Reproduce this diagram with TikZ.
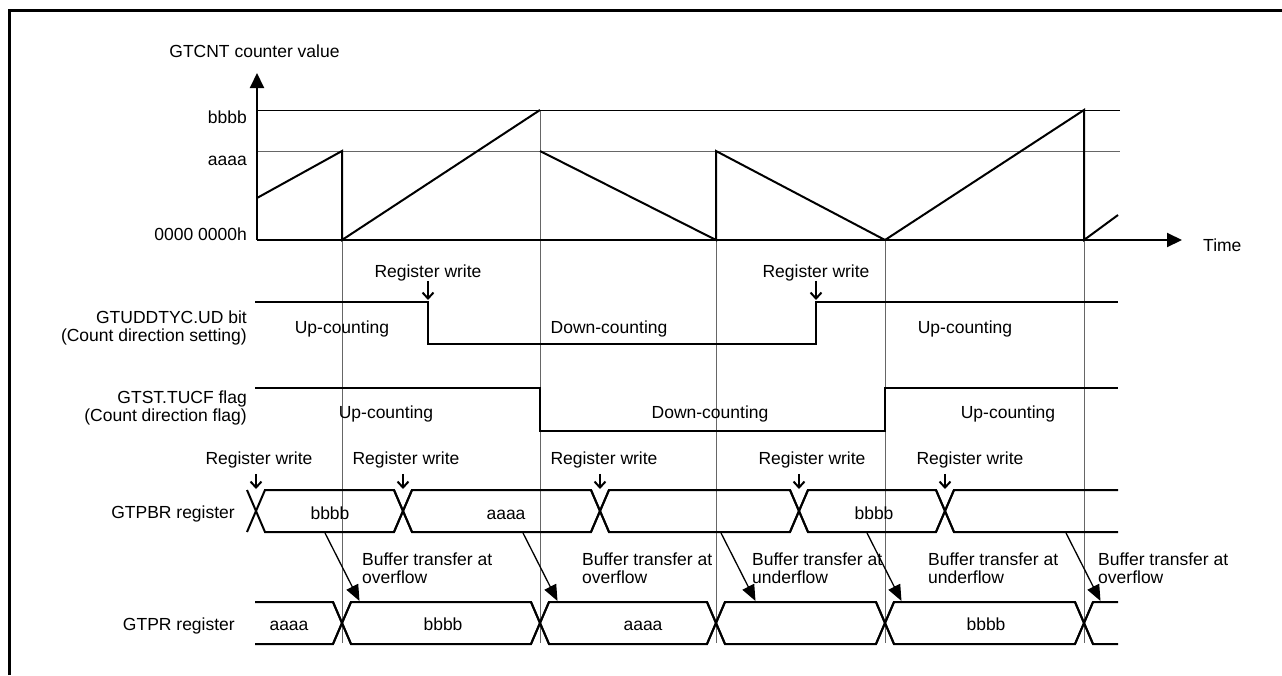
\documentclass[tikz,border=0pt]{standalone}
\usepackage{fontspec}
\setmainfont{Liberation Sans}
\usetikzlibrary{arrows.meta}

\tikzset{
  sig/.style={line width=2pt},
  guide/.style={line width=1pt, black!60},
  axisarrow/.style={line width=2pt, -{Triangle[length=15pt,width=14pt]}},
  wrarrow/.style={line width=2pt, -{Straight Barb[length=6pt,width=11pt]}},
  xferarrow/.style={line width=1.3pt, -{Triangle[length=16pt,width=13pt]}},
  lbl/.style={inner sep=0pt, font=\fontsize{17.5}{18}\selectfont},
}

\begin{document}
\begin{tikzpicture}[x=1pt,y=-1pt]
\useasboundingbox (0,0) rectangle (1282,675);
% frame
\draw[line width=3pt] (9,675) -- (9,10) -- (1282,10);

% timing guides
\draw[guide] (540,110) -- (540,643);
\foreach \x in {342,716,885,1084}
  \draw[guide] (\x,240) -- (\x,643);

% counter
\draw[line width=1pt] (257,110) -- (1120,110);
\draw[line width=1pt, black!60] (257,151) -- (1120,151);
\draw[axisarrow] (257,240) -- (257,73);
\draw[axisarrow] (257,240) -- (1182,240);
\draw[sig] (257,198) -- (342,151) -- (342,240) -- (540,110);
\draw[sig] (540,151) -- (716,240) -- (716,151) -- (885,240) -- (1084,110) -- (1084,240) -- (1118,215);

\node[lbl, anchor=base] (ylab) at (254.5,57) {GTCNT counter value};
\node[lbl, anchor=base east] (vb) at (247,123) {bbbb};
\node[lbl, anchor=base east] (va) at (247,165) {aaaa};
\node[lbl, anchor=base east] (v0) at (247,240) {0000 0000h};
\node[lbl, anchor=base west] (tlab) at (1203,251) {Time};

% GTUDDTYC.UD
\draw[sig] (255,302) -- (428,302) -- (428,344) -- (816,344) -- (816,302) -- (1118,302);
\node[lbl, anchor=base east, align=right] (udname) at (247,341) {GTUDDTYC.UD bit\\(Count direction setting)};
\foreach \x/\t [count=\i] in {342/Up-counting, 609/Down-counting, 965/Up-counting}
  \node[lbl, anchor=base] (ud\i) at (\x,333) {\t};
\foreach \x [count=\i] in {428,816} {
  \node[lbl, anchor=base] (udw\i) at (\x,277) {Register write};
  \coordinate (udt\i) at (\x,300);
  \draw[wrarrow] (udw\i.south -| udt\i) -- (udt\i);
}

% GTST.TUCF
\draw[sig] (255,388) -- (540,388) -- (540,431) -- (885,431) -- (885,388) -- (1118,388);
\node[lbl, anchor=base east, align=right] (ucname) at (247,421) {GTST.TUCF flag\\(Count direction flag)};
\foreach \x/\t [count=\i] in {386/Up-counting, 710/Down-counting, 1008/Up-counting}
  \node[lbl, anchor=base] (uc\i) at (\x,418) {\t};

% GTPBR
\node[lbl, anchor=base east] (pbname) at (235,518) {GTPBR register};
\foreach \a/\b in {256/403, 403/600, 600/799, 799/945}
  \draw[sig] (\a-9,532) -- (\a+9,490) -- (\b-9,490) -- (\b+9,532)
             (\a-9,490) -- (\a+9,532) -- (\b-9,532) -- (\b+9,490);
\draw[sig] (936,532) -- (954,490) -- (1118,490) (936,490) -- (954,532) -- (1118,532);
\foreach \x/\t [count=\i] in {330/bbbb, 506/aaaa, 874/bbbb}
  \node[lbl, anchor=base] (pb\i) at (\x,519) {\t};
\foreach \x/\c [count=\i] in {259/256, 406/403, 604/600, 812/799, 970/945} {
  \node[lbl, anchor=base] (pbw\i) at (\x,464) {Register write};
  \coordinate (pbt\i) at (\c,489);
  \draw[wrarrow, shorten <=6pt] (pbw\i.south -| pbt\i) -- (pbt\i);
}

% GTPR
\node[lbl, anchor=base east] (prname) at (235,630) {GTPR register};
\draw[sig] (255,602) -- (333,602) -- (351,644) (255,644) -- (333,644) -- (351,602);
\foreach \a/\b in {342/540, 540/716, 716/885, 885/1084}
  \draw[sig] (\a-9,644) -- (\a+9,602) -- (\b-9,602) -- (\b+9,644)
             (\a-9,602) -- (\a+9,644) -- (\b-9,644) -- (\b+9,602);
\draw[sig] (1075,644) -- (1093,602) -- (1118,602) (1075,602) -- (1093,644) -- (1118,644);
\foreach \x/\t [count=\i] in {289/aaaa, 443/bbbb, 643/aaaa, 986/bbbb}
  \node[lbl, anchor=base] (pr\i) at (\x,630) {\t};

% buffer transfers
\foreach \s/\x/\t [count=\i] in {325/362/overflow, 523/582/overflow, 721/752/underflow, 867/928/underflow, 1066/1098/overflow} {
  \coordinate (src\i) at (\s,533);
  \coordinate (dst\i) at (\s+34.5,601);
  \draw[xferarrow] (src\i) -- (dst\i);
  \node[lbl, anchor=base west, align=left] (xf\i) at (\x,583) {Buffer transfer at\\\t};
}
\end{tikzpicture}
\end{document}
